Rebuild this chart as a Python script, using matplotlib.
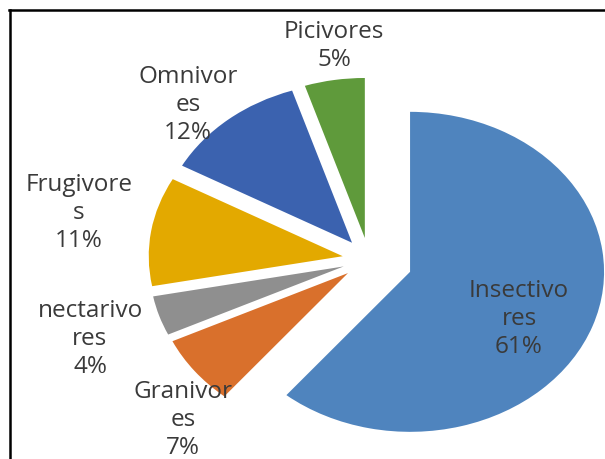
import matplotlib
matplotlib.use("Agg")
import matplotlib.pyplot as plt
from matplotlib.lines import Line2D

# ---- data ----
categories = ["Insectivores", "Granivores", "nectarivores", "Frugivores", "Omnivores", "Picivores"]
values = [61, 7, 4, 11, 12, 5]
label_texts = ["Insectivo\nres\n61%", "Granivor\nes\n7%", "nectarivo\nres\n4%",
               "Frugivore\ns\n11%", "Omnivor\nes\n12%", "Picivores\n5%"]
colors = ["#4F84BE", "#D9702C", "#8F8F8F", "#E3A900", "#3B62AF", "#5F9A3B"]
explode = [0.225, 0.137, 0.137, 0.137, 0.137, 0.137]

# ---- layout (pixels) ----
W, H = 605, 459
RX, RY = 194.0, 160.0          # elliptical pie radii in pixels
label_px = [(519, 319), (183, 420), (90, 339), (79, 213), (188, 105), (334, 46)]

fig = plt.figure(figsize=(W / 100, H / 100), dpi=100)
ax = fig.add_axes([0, 0, 1, 1])
ax.pie(values, colors=colors, explode=explode, startangle=90, counterclock=False,
       radius=1.0, center=(1.902, 1.246), wedgeprops=dict(linewidth=0))
ax.set_aspect("auto")
ax.set_xlim(0, W / RX)
ax.set_ylim(0, H / RY)
ax.axis("off")

for txt, (px, py) in zip(label_texts, label_px):
    fig.text(px / W, 1 - py / H, txt, ha="center", va="center", fontsize=17.5,
             family="Open Sans", color="#3A3A3A", linespacing=1.2)

# frame lines (top and left)
fig.add_artist(Line2D([8.5 / W, 1], [1 - 10 / H, 1 - 10 / H], color="black", lw=1.8,
                      transform=fig.transFigure))
fig.add_artist(Line2D([9.5 / W, 9.5 / W], [0, 1 - 10 / H], color="black", lw=1.8,
                      transform=fig.transFigure))

fig.savefig("out.png", dpi=100)
